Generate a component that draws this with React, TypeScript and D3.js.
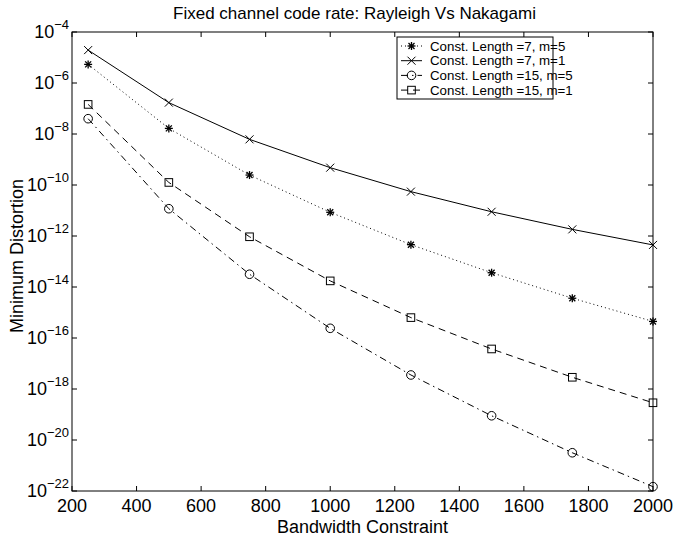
import * as d3 from 'd3'

const bandwidth = [250, 500, 750, 1000, 1250, 1500, 1750, 2000]

// log10 of minimum distortion
const len7m5 = [-5.27, -7.78, -9.61, -11.07, -12.34, -13.44, -14.44, -15.35]
const len7m1 = [-4.71, -6.77, -8.21, -9.32, -10.26, -11.05, -11.74, -12.35]
const len15m5 = [-7.4, -10.93, -13.5, -15.62, -17.45, -19.05, -20.5, -21.83]
const len15m1 = [-6.84, -9.9, -12.03, -13.76, -15.2, -16.43, -17.54, -18.54]

const xTicks = [200, 400, 600, 800, 1000, 1200, 1400, 1600, 1800, 2000]
const yExponents = [-4, -6, -8, -10, -12, -14, -16, -18, -20, -22]

const seriesNames = [
  'Const. Length =7, m=5',
  'Const. Length =7, m=1',
  'Const. Length =15, m=5',
  'Const. Length =15, m=1'
]

type Marker = 'star' | 'x' | 'circle' | 'square'

const series: { name: string; values: number[]; dash: string; marker: Marker }[] = [
  { name: seriesNames[0], values: len7m5, dash: '1,3', marker: 'star' },
  { name: seriesNames[1], values: len7m1, dash: 'none', marker: 'x' },
  { name: seriesNames[2], values: len15m5, dash: '7,4,1.5,4', marker: 'circle' },
  { name: seriesNames[3], values: len15m1, dash: '7,5', marker: 'square' }
]

const W = 674
const H = 542
const margin = { top: 32, right: 21, bottom: 51, left: 72 }
const font = '"Liberation Sans", Arial, Helvetica, sans-serif'

function MarkerShape({ type, x, y }: { type: Marker; x: number; y: number }) {
  const s = 4
  if (type === 'x') {
    return (
      <g stroke="#000" strokeWidth={1}>
        <line x1={x - s} y1={y - s} x2={x + s} y2={y + s} />
        <line x1={x - s} y1={y + s} x2={x + s} y2={y - s} />
      </g>
    )
  }
  if (type === 'star') {
    return (
      <g stroke="#000" strokeWidth={1.3}>
        <line x1={x - s} y1={y} x2={x + s} y2={y} />
        <line x1={x} y1={y - s} x2={x} y2={y + s} />
        <line x1={x - 3} y1={y - 3} x2={x + 3} y2={y + 3} />
        <line x1={x - 3} y1={y + 3} x2={x + 3} y2={y - 3} />
      </g>
    )
  }
  if (type === 'circle') {
    return <circle cx={x} cy={y} r={4.3} fill="none" stroke="#000" strokeWidth={1} />
  }
  return <rect x={x - 3.8} y={y - 3.8} width={7.6} height={7.6} fill="none" stroke="#000" strokeWidth={1} />
}

export default function App() {
  const innerW = W - margin.left - margin.right
  const innerH = H - margin.top - margin.bottom

  const x = d3.scaleLinear().domain([200, 2000]).range([margin.left, margin.left + innerW])
  const y = d3.scaleLinear().domain([-4, -22]).range([margin.top, margin.top + innerH])

  const line = d3.line<number>()
    .x((_, i) => x(bandwidth[i]))
    .y(d => y(d))

  const tick = 5
  const left = margin.left
  const right = margin.left + innerW
  const top = margin.top
  const bottom = margin.top + innerH

  const legend = { x: 397, y: 37, w: 156, h: 62 }

  return (
    <svg width={W} height={H} style={{ position: 'absolute', left: 0, top: 0, background: '#fff' }}
      fontFamily={font}>
      <rect x={0} y={0} width={W} height={H} fill="#fff" />

      {/* frame + ticks */}
      <rect x={left} y={top} width={innerW} height={innerH} fill="none" stroke="#000" strokeWidth={1} />
      {xTicks.map(t => (
        <g key={'x' + t}>
          <line x1={x(t)} x2={x(t)} y1={bottom} y2={bottom - tick} stroke="#000" />
          <line x1={x(t)} x2={x(t)} y1={top} y2={top + tick} stroke="#000" />
          <text x={x(t)} y={bottom + 21} textAnchor="middle" fontSize={18}>{t}</text>
        </g>
      ))}
      {yExponents.map(e => (
        <g key={'y' + e}>
          <line x1={left} x2={left + tick} y1={y(e)} y2={y(e)} stroke="#000" />
          <line x1={right} x2={right - tick} y1={y(e)} y2={y(e)} stroke="#000" />
          <text x={69} y={y(e) + 6} textAnchor="end" fontSize={18}>
            10<tspan dy={-9} fontSize={13}>{'\u2212' + Math.abs(e)}</tspan>
          </text>
        </g>
      ))}

      {/* series */}
      {series.map(s => (
        <g key={s.name}>
          <path d={line(s.values) ?? ''} fill="none" stroke="#000" strokeWidth={1}
            strokeDasharray={s.dash} />
          {s.values.map((v, i) => (
            <MarkerShape key={i} type={s.marker} x={x(bandwidth[i])} y={y(v)} />
          ))}
        </g>
      ))}

      {/* legend */}
      <rect x={legend.x} y={legend.y} width={legend.w} height={legend.h} fill="#fff" stroke="#000" strokeWidth={1} />
      {series.map((s, i) => {
        const ly = legend.y + 9 + i * 14.7
        return (
          <g key={'lg' + i}>
            <line x1={legend.x + 4} x2={legend.x + 25} y1={ly} y2={ly} stroke="#000" strokeDasharray={s.dash} />
            <MarkerShape type={s.marker} x={legend.x + 14.5} y={ly} />
            <text x={legend.x + 33} y={ly + 4.5} fontSize={13.3}>{s.name}</text>
          </g>
        )
      })}

      {/* titles */}
      <text x={(left + right) / 2 - 8} y={19} textAnchor="middle" fontSize={17}>
        Fixed channel code rate: Rayleigh Vs Nakagami
      </text>
      <text x={(left + right) / 2} y={533} textAnchor="middle" fontSize={18}>Bandwidth Constraint</text>
      <text transform={`translate(23, 256) rotate(-90)`} textAnchor="middle" fontSize={18}>
        Minimum Distortion
      </text>
    </svg>
  )
}
